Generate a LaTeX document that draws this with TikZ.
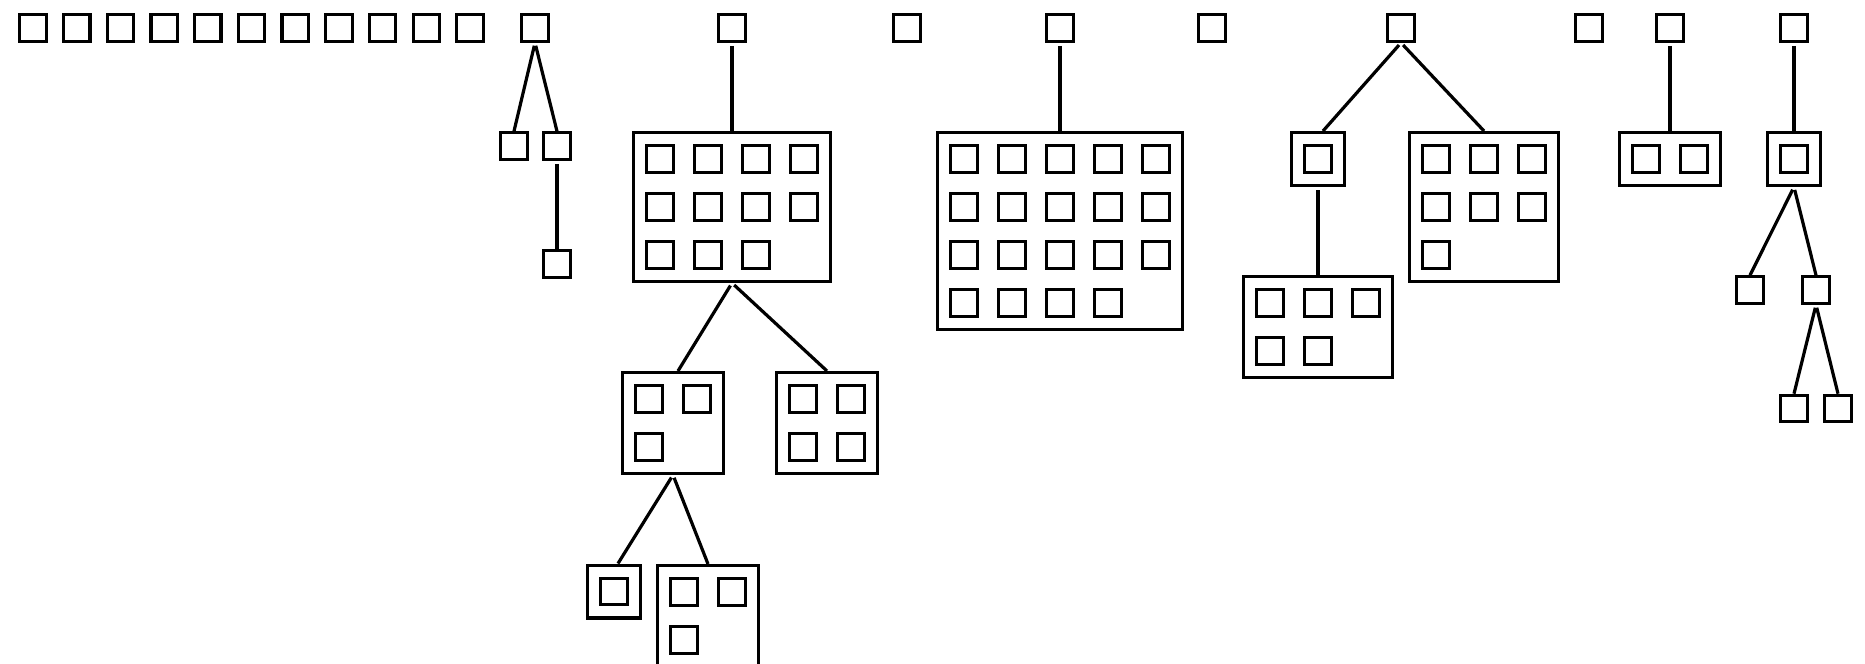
\documentclass[tikz,border=0pt]{standalone}
\usetikzlibrary{positioning}

\tikzset{
  leaf/.style={draw, line width=1.6pt, inner sep=0pt, minimum size=13.2pt},
  grp/.style 2 args={draw, line width=1.6pt, inner sep=0pt, minimum width=#1, minimum height=#2},
  link/.style={line width=1.6pt, shorten <=1.5pt}
}

\begin{document}
\begin{tikzpicture}[x=0.5pt, y=-0.5pt]
      \path[use as bounding box, fill=white] (0,0) rectangle (1865,664);

      \foreach \i in {1,...,11}
        \node[leaf] (s\i) at ({33+43.7*(\i-1)},28) {};

      \node[leaf] (t1) at (535,28) {};
      \node[leaf] (t2) at (732,28) {};
      \node[leaf] (u1) at (907,28) {};
      \node[leaf] (t3) at (1060,28) {};
      \node[leaf] (u2) at (1212,28) {};
      \node[leaf] (t4) at (1401,28) {};
      \node[leaf] (u3) at (1589,28) {};
      \node[leaf] (t5) at (1670,28) {};
      \node[leaf] (t6) at (1794,28) {};

      \node[leaf] (t1a) at (514,146) {};
      \node[leaf] (t1b) at (557,146) {};
      \node[leaf] (t1c) at (557,264) {};

      \node[grp={98.4pt}{74.4pt}] (A) at (732,207) {};
      \foreach \i in {1,...,11}
        \node[leaf] (A-\i) at ([shift={({mod(\i-1,4)*48-72},{div(\i-1,4)*48-48})}]A.center) {};

      \node[grp={50.4pt}{50.4pt}] (A1) at (673,423) {};
      \foreach \i in {1,...,3}
        \node[leaf] (A1-\i) at ([shift={({mod(\i-1,2)*48-24},{div(\i-1,2)*48-24})}]A1.center) {};

      \node[grp={50.4pt}{50.4pt}] (A2) at (827,423) {};
      \foreach \i in {1,...,4}
        \node[leaf] (A2-\i) at ([shift={({mod(\i-1,2)*48-24},{div(\i-1,2)*48-24})}]A2.center) {};

      \node[grp={26.4pt}{26.4pt}] (A1a) at (614,591.5) {};
      \node[leaf] (A1a-1) at (A1a.center) {};

      \node[grp={50.4pt}{50.4pt}] (A1b) at (708,616) {};
      \foreach \i in {1,...,3}
        \node[leaf] (A1b-\i) at ([shift={({mod(\i-1,2)*48-24},{div(\i-1,2)*48-24})}]A1b.center) {};

      \node[grp={122.4pt}{98.4pt}] (B) at (1060,231) {};
      \foreach \i in {1,...,19}
        \node[leaf] (B-\i) at ([shift={({mod(\i-1,5)*48-96},{div(\i-1,5)*48-72})}]B.center) {};

      \node[grp={26.4pt}{26.4pt}] (C1) at (1318,159) {};
      \node[leaf] (C1-1) at (C1.center) {};

      \node[grp={74.4pt}{74.4pt}] (C2) at (1484,207) {};
      \foreach \i in {1,...,7}
        \node[leaf] (C2-\i) at ([shift={({mod(\i-1,3)*48-48},{div(\i-1,3)*48-48})}]C2.center) {};

      \node[grp={74.4pt}{50.4pt}] (C1a) at (1318,327) {};
      \foreach \i in {1,...,5}
        \node[leaf] (C1a-\i) at ([shift={({mod(\i-1,3)*48-48},{div(\i-1,3)*48-24})}]C1a.center) {};

      \node[grp={50.4pt}{26.4pt}] (D1) at (1670,159) {};
      \foreach \i in {1,2}
        \node[leaf] (D1-\i) at ([shift={({(\i-1)*48-24},0)}]D1.center) {};

      \node[grp={26.4pt}{26.4pt}] (E1) at (1794,159) {};
      \node[leaf] (E1-1) at (E1.center) {};

      \node[leaf] (E1a) at (1750,290) {};
      \node[leaf] (E1b) at (1816,290) {};
      \node[leaf] (E1c) at (1794,408.5) {};
      \node[leaf] (E1d) at (1838,408.5) {};

      \draw[link] (t1.south) -- (t1a.north);
      \draw[link] (t1.south) -- (t1b.north);
      \draw[link] (t1b.south) -- (t1c.north);

      \draw[link] (t2.south) -- (A.north);
      \draw[link] (A.south) -- ([xshift=2.5pt]A1.north);
      \draw[link] (A.south) -- (A2.north);
      \draw[link] (A1.south) -- ([xshift=2pt]A1a.north);
      \draw[link] (A1.south) -- (A1b.north);

      \draw[link] (t3.south) -- (B.north);

      \draw[link] (t4.south) -- ([xshift=2.5pt]C1.north);
      \draw[link] (t4.south) -- (C2.north);
      \draw[link] (C1.south) -- (C1a.north);

      \draw[link] (t5.south) -- (D1.north);

      \draw[link] (t6.south) -- (E1.north);
      \draw[link] (E1.south) -- (E1a.north);
      \draw[link] (E1.south) -- (E1b.north);
      \draw[link] (E1b.south) -- (E1c.north);
      \draw[link] (E1b.south) -- (E1d.north);

\end{tikzpicture}
\end{document}
